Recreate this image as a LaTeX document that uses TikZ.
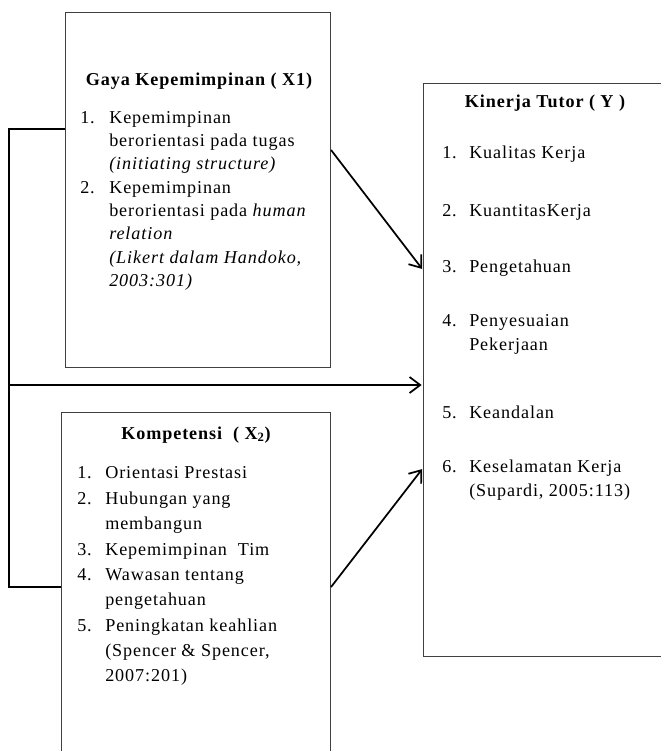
\documentclass[tikz,border=0pt]{standalone}
\usepackage{fontspec}
\setmainfont{Liberation Serif}[LetterSpace=5]
\usetikzlibrary{arrows.meta,calc}
\newcommand{\numA}[1]{\makebox[21.75pt][l]{#1}}
\newcommand{\numB}[1]{\makebox[20.25pt][l]{#1}}
\newcommand{\numC}[1]{\makebox[21pt][l]{#1}}
\tikzset{
  boxst/.style={draw=black!75, line width=0.8pt, rectangle, anchor=north west, inner sep=0pt},
  txt/.style={anchor=base west, inner sep=0pt, font=\fontsize{13.6pt}{15pt}\selectfont},
  ttl/.style={anchor=base, inner sep=0pt, font=\fontsize{13.6pt}{15pt}\selectfont\bfseries},
  conn/.style={line width=1.3pt, black},
  arr/.style={conn, -{Straight Barb[length=8pt,width=12pt,line width=1.3pt]}, shorten >=1pt},
}
\begin{document}
\begin{tikzpicture}[x=0.75pt,y=-0.75pt]
\useasboundingbox (0,0) rectangle (661,751);
% boxes
\node[boxst, minimum width=198.75pt, minimum height=266.25pt] (b1) at (65,12) {};
\node[boxst, minimum width=210pt, minimum height=429.75pt] (by) at (423,83) {};
\node[boxst, minimum width=201.75pt, minimum height=300pt] (b2) at (61,412) {};
% box 1 text
\node[ttl] (t1) at (199,85) {Gaya Kepemimpinan ( X1)};
\node[txt] (t1a) at (80,123) {\numA{1.}Kepemimpinan};
\node[txt] (t1b) at (109,146) {berorientasi pada tugas};
\node[txt] (t1c) at (109,169.5) {\textit{(initiating structure)}};
\node[txt] (t1d) at (80,193) {\numA{2.}Kepemimpinan};
\node[txt] (t1e) at (109,216) {berorientasi pada \textit{human}};
\node[txt] (t1f) at (109,239.5) {\textit{relation}};
\node[txt] (t1g) at (109,263) {\textit{(Likert dalam Handoko,}};
\node[txt] (t1h) at (109,286) {\textit{2003:301)}};
% box Y text
\node[ttl] (ty) at (545,107) {Kinerja Tutor ( Y )};
\node[txt] (tya) at (442,158) {\numB{1.}Kualitas Kerja};
\node[txt] (tyb) at (442,216) {\numB{2.}KuantitasKerja};
\node[txt] (tyc) at (442,272) {\numB{3.}Pengetahuan};
\node[txt] (tyd) at (442,326) {\numB{4.}Penyesuaian};
\node[txt] (tye) at (469,350) {Pekerjaan};
\node[txt] (tyf) at (442,418) {\numB{5.}Keandalan};
\node[txt] (tyg) at (442,472) {\numB{6.}Keselamatan Kerja};
\node[txt] (tyh) at (469,496) {(Supardi, 2005:113)};
% box 2 text
\node[ttl] (t2) at (196,439) {Kompetensi \ ( X$_{\mathbf{2}}$)};
\node[txt] (t2a) at (77,478) {\numC{1.}Orientasi Prestasi};
\node[txt] (t2b) at (77,504) {\numC{2.}Hubungan yang};
\node[txt] (t2c) at (105,529) {membangun};
\node[txt] (t2d) at (77,555) {\numC{3.}Kepemimpinan \ Tim};
\node[txt] (t2e) at (77,580) {\numC{4.}Wawasan tentang};
\node[txt] (t2f) at (105,605) {pengetahuan};
\node[txt] (t2g) at (77,631) {\numC{5.}Peningkatan keahlian};
\node[txt] (t2h) at (105,656) {(Spencer \& Spencer,};
\node[txt] (t2i) at (105,681) {2007:201)};
% connectors
\coordinate (ltop) at (9,129);
\coordinate (lmid) at (9,385);
\coordinate (lbot) at (9,587);
\draw[conn] (ltop -| b1.west) -- (ltop) -- (lbot) -- (lbot -| b2.west);
\draw[arr] (lmid) -- (lmid -| by.west);
\coordinate (a1s) at (330,150);
\coordinate (a1e) at (423,270);
\coordinate (a3s) at (330,587);
\coordinate (a3e) at (423,468);
\draw[arr] (a1s -| b1.east) -- (a1e -| by.west);
\draw[arr] (a3s -| b2.east) -- (a3e -| by.west);
\end{tikzpicture}
\end{document}
